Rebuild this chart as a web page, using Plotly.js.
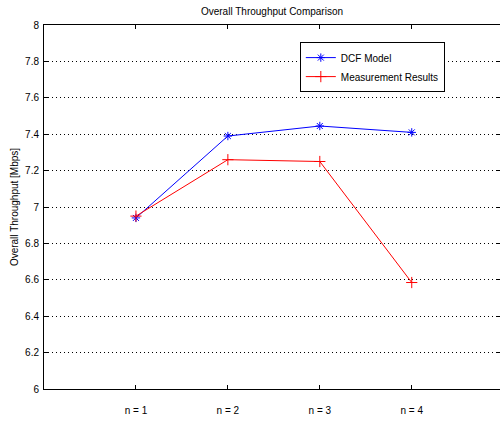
<!DOCTYPE html>
<html><head><meta charset="utf-8">
<script src="https://cdn.plot.ly/plotly-3.0.1.min.js"></script>
<style>html,body{margin:0;padding:0;overflow:hidden;background:#fff}</style>
</head><body><div id="c" style="width:500px;height:425px"></div>
<script>
var xPos = [1, 2, 3, 4];
var tickLabels = ["n = 1", "n = 2", "n = 3", "n = 4"];
var dcfModel = [6.94, 7.39, 7.445, 7.41];
var measured = [6.95, 7.26, 7.25, 6.585];

var traces = [
  {x: xPos, y: dcfModel, name: "DCF Model", mode: "lines+markers", type: "scatter",
   line: {color: "rgb(0,0,255)", width: 1},
   marker: {symbol: "asterisk-open", size: 7, color: "rgb(0,0,255)", line: {color: "rgb(0,0,255)", width: 1}}},
  {x: xPos, y: measured, name: "Measurement Results", mode: "lines+markers", type: "scatter",
   line: {color: "rgb(255,0,0)", width: 1},
   marker: {symbol: "cross-thin-open", size: 8, color: "rgb(255,0,0)", line: {color: "rgb(255,0,0)", width: 1}}}
];

var layout = {
  width: 500, height: 425,
  margin: {l: 44, r: 0, t: 25, b: 36, pad: 0},
  paper_bgcolor: "#fff", plot_bgcolor: "#fff",
  font: {family: "Liberation Sans, Arial, sans-serif", size: 10, color: "#000"},
  title: {text: "Overall Throughput Comparison", font: {size: 10, color: "#000"}, x: 0.544, xanchor: "center", y: 0.972, yanchor: "middle"},
  showlegend: true,
  legend: {x: 0.561, y: 0.953, xanchor: "left", yanchor: "top", bordercolor: "#000", borderwidth: 1,
           bgcolor: "#fff", font: {size: 10}, tracegroupgap: 0, itemwidth: 30, tracegroupgap: 0},
  xaxis: {range: [0, 4.96], tickvals: xPos, ticktext: tickLabels, ticks: "inside", ticklen: 4,
          tickcolor: "#000", showgrid: false, zeroline: false, showline: true, linecolor: "#000",
          linewidth: 1, mirror: "ticks", ticklabelstandoff: 12, fixedrange: true},
  yaxis: {range: [6, 8], dtick: 0.2, tick0: 6, ticks: "inside", ticklen: 4, tickcolor: "#000",
          showgrid: true, gridcolor: "#000", griddash: "1px,3px", gridwidth: 1, zeroline: false,
          showline: true, linecolor: "#000", linewidth: 1, mirror: "ticks",
          tickformat: "~g", ticklabelstandoff: 2,
          title: {text: "Overall Throughput [Mbps]", font: {size: 10}, standoff: 4}}
};
Plotly.newPlot("c", traces, layout, {displayModeBar: false, staticPlot: true});
</script></body></html>
